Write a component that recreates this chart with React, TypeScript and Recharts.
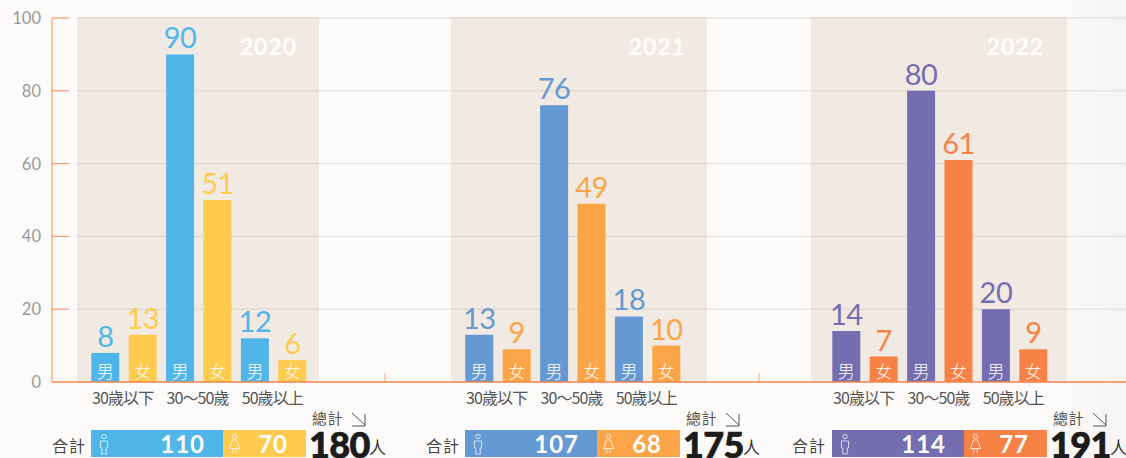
import { BarChart, Bar, Cell, CartesianGrid, LabelList, XAxis, YAxis } from 'recharts'

const years = ['2020', '2021', '2022']
const ageGroups = ['30歲以下', '30歲以下', '30～50歲', '30～50歲', '50歲以上', '50歲以上']
const sexes = ['男', '女', '男', '女', '男', '女']
// printed numbers
const labels2020 = [8, 13, 90, 51, 12, 6]
const labels2021 = [13, 9, 76, 49, 18, 10]
const labels2022 = [14, 7, 80, 61, 20, 9]
// bar heights: the 2020 "51" bar is drawn at 50 in the original
const heights2020 = [8, 13, 90, 50, 12, 6]
const heights2021 = [13, 9, 76, 49, 18, 10]
const heights2022 = [14, 7, 80, 61, 20, 9]
const maleTotals = [110, 107, 114]
const femaleTotals = [70, 68, 77]
const grandTotals = [180, 175, 191]
const yTicks = [0, 20, 40, 60, 80, 100]
const gridTicks = [20, 40, 60, 80]
const dividers = [333, 707]

const allLabels = [labels2020, labels2021, labels2022]
const allHeights = [heights2020, heights2021, heights2022]
const maleColors = ['#50b6e9', '#6599d3', '#746eb0']
const femaleColors = ['#ffcb4e', '#fba548', '#f78246']

// layout of each year block
const panels = [
  { left: 77, width: 242, padL: 9.3, padR: 8.3, strip: 91, sum: 52, total: 309, yearRight: 22 },
  { left: 451, width: 256, padL: 9.3, padR: 22.3, strip: 465, sum: 426, total: 683, yearRight: 21 },
  { left: 811, width: 256, padL: 16.3, padR: 15.3, strip: 832, sum: 792, total: 1050, yearRight: 23 },
]

const W = 1126
const H = 458
const TOP = 18
const BOTTOM = 76
const cjk = '"Noto Sans CJK TC", sans-serif'
const latin = 'Lato, "Noto Sans", sans-serif'

function MaleIcon({ x, y }: { x: number; y: number }) {
  return (
    <g transform={`translate(${x},${y})`} fill="none" stroke="#fff" strokeWidth={0.8} opacity={0.9}>
      <circle cx={5} cy={2.5} r={2.2} />
      <path d="M1.5 7h7v7h-1.3v6h-4.4v-6H1.5z" />
    </g>
  )
}

function FemaleIcon({ x, y }: { x: number; y: number }) {
  return (
    <g transform={`translate(${x},${y})`} fill="none" stroke="#fff" strokeWidth={0.8} opacity={0.95}>
      <circle cx={5.5} cy={2.5} r={2.2} />
      <path d="M3.5 6h4l3 8.5H0.5zM3.8 14.5v5M7.2 14.5v5" />
    </g>
  )
}

function YearChart({ index }: { index: number }) {
  const p = panels[index]
  const data = allHeights[index].map((height, i) => ({ age: `${i}`, height }))
  return (
    <div style={{ position: 'absolute', left: p.left, top: 0 }}>
      <BarChart
        width={p.width}
        height={H}
        data={data}
        margin={{ top: TOP, right: 0, bottom: 0, left: 0 }}
        barCategoryGap={0}
      >
        <CartesianGrid fill="#f1eae3" stroke="#d8d2ca" vertical={false} />
        <XAxis
          dataKey="age"
          height={BOTTOM}
          axisLine={false}
          tickLine={false}
          interval={0}
          padding={{ left: p.padL, right: p.padR }}
          tick={(t: any) =>
            t.index % 2 === 1 ? (
              <text
                x={t.x - 19.7}
                y={404}
                textAnchor="middle"
                fontFamily={cjk}
                fontSize={16}
                letterSpacing={-0.9}
                fill="#555"
              >
                {ageGroups[t.index]}
              </text>
            ) : (
              <g />
            )
          }
        />
        <YAxis hide domain={[0, 100]} ticks={gridTicks} />
        <Bar dataKey="height" barSize={28} isAnimationActive={false}>
          {data.map((_, i) => (
            <Cell key={i} fill={i % 2 === 0 ? maleColors[index] : femaleColors[index]} />
          ))}
          <LabelList
            dataKey="height"
            content={(l: any) => (
              <g>
                <text
                  x={l.x + l.width / 2}
                  y={l.y - 6}
                  textAnchor="middle"
                  fontFamily={latin}
                  fontSize={29}
                  letterSpacing={-0.5}
                  fill={l.index % 2 === 0 ? maleColors[index] : femaleColors[index]}
                >
                  {allLabels[index][l.index]}
                </text>
                <text
                  x={l.x + l.width / 2}
                  y={l.y + l.height - 4}
                  textAnchor="middle"
                  fontFamily={cjk}
                  fontSize={17}
                  fontWeight={300}
                  fill="#fff"
                >
                  {sexes[l.index]}
                </text>
              </g>
            )}
          />
        </Bar>
      </BarChart>
      <div
        style={{
          position: 'absolute',
          right: p.yearRight,
          top: 31,
          color: '#fff',
          fontFamily: latin,
          fontWeight: 700,
          fontSize: 23,
          letterSpacing: 1,
          lineHeight: '30px',
        }}
      >
        {years[index]}
      </div>
    </div>
  )
}

function Strip({
  value,
  width,
  color,
  female,
}: {
  value: number
  width: number
  color: string
  female?: boolean
}) {
  return (
    <BarChart
      layout="vertical"
      width={width}
      height={27}
      data={[{ name: 'total', value }]}
      margin={{ top: 0, right: 0, bottom: 0, left: 0 }}
      barCategoryGap={0}
      style={{ display: 'block' }}
    >
      <XAxis type="number" hide domain={[0, value]} />
      <YAxis type="category" dataKey="name" hide />
      <Bar dataKey="value" fill={color} isAnimationActive={false}>
        <LabelList
          dataKey="value"
          content={(l: any) => (
            <g>
              {female ? <FemaleIcon x={6} y={4} /> : <MaleIcon x={8} y={4} />}
              <text
                x={l.x + l.width - 18}
                y={23}
                textAnchor="end"
                fontFamily={latin}
                fontWeight={700}
                fontSize={24}
                letterSpacing={1}
                fill="#fff"
              >
                {l.value}
              </text>
            </g>
          )}
        />
      </Bar>
    </BarChart>
  )
}

function Summary({ index }: { index: number }) {
  const p = panels[index]
  return (
    <>
      <div
        style={{
          position: 'absolute',
          left: p.sum,
          top: 433,
          fontFamily: cjk,
          fontSize: 16,
          lineHeight: '24px',
          color: '#444',
          letterSpacing: 1,
        }}
      >
        合計
      </div>
      <div style={{ position: 'absolute', left: p.strip, top: 430, display: 'flex' }}>
        <Strip value={maleTotals[index]} width={132} color={maleColors[index]} />
        <Strip value={femaleTotals[index]} width={83} color={femaleColors[index]} female />
      </div>
      <div
        style={{
          position: 'absolute',
          left: p.total + 3,
          top: 407,
          fontFamily: cjk,
          fontSize: 15,
          lineHeight: '22px',
          color: '#555',
          letterSpacing: 0.5,
          whiteSpace: 'nowrap',
        }}
      >
        總計
      </div>
      <svg
        style={{ position: 'absolute', left: p.total + 42, top: 412 }}
        width={16}
        height={16}
        fill="none"
        stroke="#555"
        strokeWidth={1}
      >
        <path d="M1 1l13 12M14 2v12H1" />
      </svg>
      <div
        style={{
          position: 'absolute',
          left: p.total,
          top: 431,
          fontFamily: latin,
          fontWeight: 900,
          fontSize: 36,
          lineHeight: '26px',
          letterSpacing: -0.6,
          color: '#1c1c1c',
          WebkitTextStroke: '0.7px #1c1c1c',
          whiteSpace: 'nowrap',
        }}
      >
        {grandTotals[index]}
      </div>
      <div
        style={{
          position: 'absolute',
          left: p.total + 60,
          top: 437,
          fontFamily: cjk,
          fontSize: 17,
          lineHeight: '20px',
          color: '#333',
        }}
      >
        人
      </div>
    </>
  )
}

export default function App() {
  return (
    <div
      style={{
        position: 'absolute',
        left: 0,
        top: 0,
        width: W,
        height: H,
        overflow: 'hidden',
        background: 'linear-gradient(90deg, #fdfbf9 93%, #f5f4f2 100%)',
      }}
    >
      {/* grid lines behind the year panels */}
      <div style={{ position: 'absolute', left: 0, top: 0 }}>
        <BarChart
          width={W}
          height={H}
          data={yTicks.map((t) => ({ t }))}
          margin={{ top: TOP, right: 0, bottom: BOTTOM, left: 79 }}
        >
          <CartesianGrid stroke="#dcdad7" vertical={false} />
          <XAxis hide dataKey="t" />
          <YAxis hide domain={[0, 100]} ticks={gridTicks} />
          <Bar dataKey="t" fill="none" isAnimationActive={false} />
        </BarChart>
      </div>

      {years.map((_, i) => (
        <YearChart key={i} index={i} />
      ))}

      {/* y axis, baseline and year separators on top */}
      <div style={{ position: 'absolute', left: 0, top: 0 }}>
        <BarChart
          width={W}
          height={H}
          data={[
            { x: 0, t: 0 },
            { x: W - 52, t: 100 },
          ]}
          margin={{ top: TOP, right: 0, bottom: 0, left: 0 }}
        >
          <XAxis
            type="number"
            dataKey="x"
            domain={[0, W - 52]}
            ticks={dividers}
            height={BOTTOM}
            axisLine={{ stroke: '#f8894f', strokeWidth: 1.3 }}
            tickLine={false}
            tick={(t: any) => <line x1={t.x} x2={t.x} y1={373} y2={382} stroke="#f8a070" strokeWidth={1} />}
          />
          <YAxis
            domain={[0, 100]}
            ticks={yTicks}
            width={52}
            axisLine={{ stroke: '#ffa87a', strokeWidth: 1.3 }}
            tickLine={false}
            tick={(t: any) => (
              <g>
                {t.payload.value > 0 && (
                  <line x1={52} x2={69} y1={t.y} y2={t.y} stroke="#f8894f" strokeWidth={1} />
                )}
                <text x={41} y={t.y + 6} textAnchor="end" fontFamily={latin} fontSize={16.5} fill="#999">
                  {t.payload.value}
                </text>
              </g>
            )}
          />
          <Bar dataKey="t" fill="none" barSize={1} isAnimationActive={false} />
        </BarChart>
      </div>

      {years.map((_, i) => (
        <Summary key={i} index={i} />
      ))}
    </div>
  )
}
